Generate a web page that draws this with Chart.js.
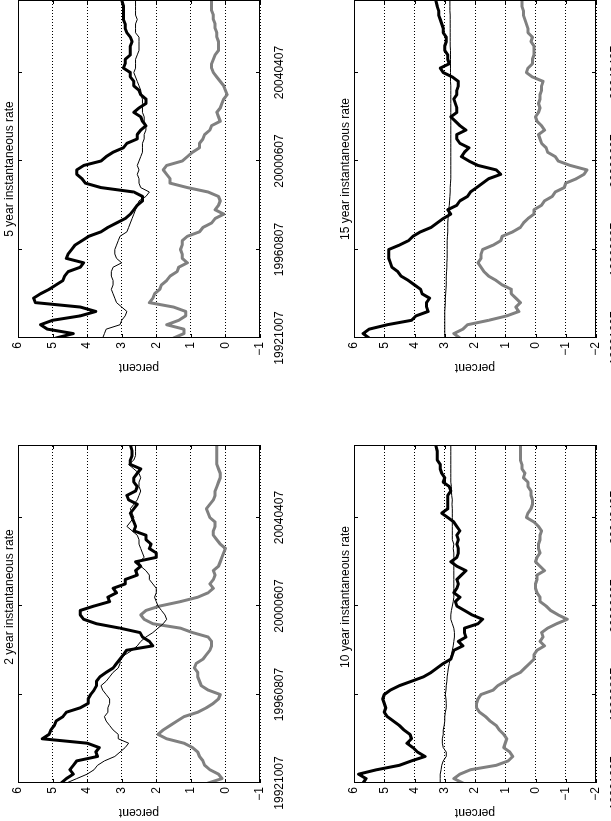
<!DOCTYPE html>
<html>
<head>
<meta charset="utf-8">
<script src="https://cdn.jsdelivr.net/npm/chart.js@4.4.1/dist/chart.umd.min.js"></script>
<style>
    html, body { margin: 0; padding: 0; background: #fff; overflow: hidden; width: 611px; height: 821px; }
    /* the figure is laid out landscape and turned a quarter turn, like the printed page */
    #fig { position: absolute; left: 0; top: 0; width: 821px; height: 611px; overflow: hidden; background: #fff;
           transform-origin: 0 0; transform: translate(0px, 821px) rotate(-90deg); }
    #fig canvas { position: absolute; }
</style>
</head>
<body>
<div id="fig">
    <canvas id="p2" width="386" height="290" style="left:0px;top:0px;width:386px;height:290px"></canvas>
    <canvas id="p5" width="386" height="290" style="left:445px;top:0px;width:386px;height:290px"></canvas>
    <canvas id="p10" width="386" height="290" style="left:0px;top:336px;width:386px;height:290px"></canvas>
    <canvas id="p15" width="386" height="290" style="left:445px;top:336px;width:386px;height:290px"></canvas>
</div>
<script>
// weeks since 1992-10-07 (sampled every 10 weeks), and the dated ticks
const weeks = [0, 10, 20, 30, 40, 50, 60, 70, 80, 90, 100, 110, 120, 130, 140, 150, 160, 170, 180, 190,
               200, 210, 220, 230, 240, 250, 260, 270, 280, 290, 300, 310, 320, 330, 340, 350, 360, 370, 380, 390,
               400, 410, 420, 430, 440, 450, 460, 470, 480, 490, 500, 510, 520, 530, 540, 550, 560, 570, 580, 590,
               600, 610, 620, 630, 640, 650, 660, 670, 680, 690, 700, 710, 720, 730, 740, 750, 764];
const tickWeeks = [0, 200, 400, 600];
const tickDates = ["19921007", "19960807", "20000607", "20040407"];

// 2 year instantaneous rate
const rate2Thick = [4.75, 4.6, 4.4, 4.5, 4.4, 4.3, 3.7, 3.75, 3.65, 4.0,
                    5.3, 5.1, 5.05, 4.95, 4.9, 4.7, 4.6, 4.2, 3.97, 3.97,
                    3.9, 3.8, 3.73, 3.73, 3.63, 3.45, 3.25, 3.15, 3.05, 2.95,
                    2.86, 2.1, 2.2, 2.4, 2.47, 3.05, 3.73, 4.1, 4.2, 4.2,
                    3.8, 3.35, 3.4, 3.15, 3.25, 2.9, 2.9, 2.55, 2.6, 2.45,
                    2.6, 2.0, 2.0, 2.2, 2.15, 2.3, 2.3, 2.65, 2.6, 2.65,
                    2.7, 2.75, 2.65, 2.55, 2.8, 2.85, 2.6, 2.55, 2.65, 2.65,
                    2.55, 2.45, 2.75, 2.75, 2.7, 2.7, 2.75];
const rate2Thin = [4.6, 4.3, 4.0, 3.8, 3.7, 3.5, 3.2, 3.05, 2.9, 2.8,
                   3.1, 3.1, 3.25, 3.35, 3.45, 3.5, 3.4, 3.4, 3.35, 3.35,
                   3.45, 3.55, 3.6, 3.45, 3.35, 3.25, 3.1, 3.05, 3.05, 2.9,
                   2.7, 2.55, 2.45, 2.3, 2.1, 1.95, 1.8, 1.7, 1.75, 1.85,
                   1.95, 2.0, 2.05, 2.0, 2.0, 2.1, 2.2, 2.2, 2.3, 2.45,
                   2.5, 2.35, 2.4, 2.45, 2.5, 2.5, 2.55, 2.7, 2.85, 2.75,
                   2.65, 2.7, 2.75, 2.65, 2.55, 2.5, 2.45, 2.5, 2.5, 2.45,
                   2.5, 2.65, 2.8, 2.65, 2.6, 2.6, 2.6];
const rate2Gray = [0.5, 0.1, 0.2, 0.45, 0.6, 0.65, 0.75, 0.8, 0.95, 1.2,
                   1.7, 1.95, 1.8, 1.6, 1.4, 1.2, 0.8, 0.55, 0.35, 0.2,
                   0.15, 0.5, 0.7, 0.75, 0.8, 0.8, 0.9, 0.85, 0.65, 0.55,
                   0.45, 0.4, 0.4, 0.5, 0.95, 1.3, 2.1, 2.35, 2.45, 2.3,
                   1.9, 1.3, 0.8, 0.5, 0.35, 0.45, 0.35, 0.3, 0.35, 0.2,
                   0.15, 0.1, 0.05, 0.0, 0.15, 0.25, 0.35, 0.35, 0.3, 0.3,
                   0.45, 0.5, 0.55, 0.45, 0.35, 0.3, 0.3, 0.25, 0.2, 0.15,
                   0.15, 0.2, 0.25, 0.25, 0.25, 0.25, 0.25];

// 5 year instantaneous rate
const rate5Thick = [4.9, 4.4, 5.15, 5.35, 5.0, 4.2, 3.75, 4.2, 5.5, 5.55,
                    5.35, 5.1, 4.9, 4.7, 4.65, 4.55, 4.2, 4.1, 4.6, 4.55,
                    4.45, 4.35, 4.15, 3.95, 3.6, 3.4, 3.15, 2.9, 2.75, 2.65,
                    2.55, 2.4, 2.4, 2.65, 3.6, 4.05, 4.15, 4.3, 4.3, 4.1,
                    3.6, 3.45, 3.25, 2.95, 2.85, 2.55, 2.55, 2.45, 2.3, 2.4,
                    2.45, 2.65, 2.5, 2.3, 2.3, 2.45, 2.5, 2.65, 2.65, 2.75,
                    2.75, 2.95, 2.9, 2.9, 2.75, 2.75, 2.75, 2.7, 2.75, 2.85,
                    2.9, 2.9, 2.95, 2.95, 2.95, 2.95, 3.0];
const rate5Thin = [3.55, 3.5, 3.45, 3.05, 3.0, 2.9, 2.85, 3.0, 3.15, 3.2,
                   3.25, 3.3, 3.25, 3.25, 3.3, 3.3, 3.25, 3.0, 3.15, 3.2,
                   3.2, 3.15, 3.1, 3.05, 2.85, 2.8, 2.75, 2.7, 2.65, 2.6,
                   2.55, 2.5, 2.3, 2.2, 2.45, 2.5, 2.5, 2.55, 2.5, 2.55,
                   2.5, 2.45, 2.4, 2.4, 2.4, 2.35, 2.35, 2.3, 2.3, 2.35,
                   2.35, 2.4, 2.4, 2.4, 2.4, 2.45, 2.45, 2.5, 2.55, 2.6,
                   2.65, 2.6, 2.6, 2.6, 2.55, 2.5, 2.5, 2.5, 2.5, 2.6,
                   2.6, 2.6, 2.55, 2.6, 2.6, 2.6, 2.6];
const rate5Gray = [1.5, 1.2, 1.2, 1.7, 1.35, 1.15, 1.15, 1.5, 2.2, 2.1,
                   2.05, 1.9, 1.85, 1.7, 1.6, 1.4, 1.35, 1.1, 1.25, 1.25,
                   1.3, 1.25, 1.25, 1.1, 0.75, 0.65, 0.4, 0.3, 0.05, 0.3,
                   0.2, 0.15, 0.2, 0.5, 1.1, 1.6, 1.6, 1.7, 1.8, 1.7,
                   1.25, 1.1, 0.95, 0.75, 0.75, 0.65, 0.6, 0.45, 0.4, 0.15,
                   0.2, 0.25, 0.15, 0.1, 0.05, -0.05, 0.0, 0.05, 0.15, 0.25,
                   0.35, 0.4, 0.4, 0.35, 0.3, 0.2, 0.2, 0.2, 0.25, 0.25,
                   0.3, 0.3, 0.35, 0.35, 0.4, 0.4, 0.4];

// 10 year instantaneous rate
const rate10Thick = [5.7, 5.6, 5.85, 5.25, 4.5, 4.1, 3.65, 3.9, 4.05, 4.25,
                     4.1, 4.15, 4.35, 4.5, 4.7, 4.9, 5.0, 4.95, 5.0, 5.05,
                     5.0, 4.8, 4.5, 4.1, 3.7, 3.45, 3.25, 3.05, 2.8, 2.75,
                     2.7, 2.4, 2.55, 2.3, 2.35, 2.35, 1.9, 1.75, 2.1, 2.35,
                     2.6, 2.65, 2.5, 2.7, 2.6, 2.55, 2.6, 2.45, 2.3, 2.6,
                     2.8, 2.6, 2.55, 2.55, 2.6, 2.55, 2.6, 2.5, 2.6, 2.7,
                     2.9, 3.1, 2.9, 2.9, 2.9, 2.9, 2.8, 2.85, 3.05, 3.0,
                     3.1, 3.15, 3.15, 3.25, 3.25, 3.25, 3.3];
const rate10Thin = [3.15, 3.15, 3.15, 3.12, 3.1, 3.05, 2.95, 2.95, 3.05, 3.08,
                    3.08, 3.05, 3.05, 3.02, 3.0, 3.0, 2.98, 2.95, 2.95, 2.96,
                    2.98, 2.96, 2.95, 2.93, 2.92, 2.9, 2.88, 2.85, 2.82, 2.78,
                    2.75, 2.72, 2.7, 2.68, 2.68, 2.7, 2.75, 2.8, 2.8, 2.78,
                    2.75, 2.72, 2.7, 2.7, 2.7, 2.7, 2.7, 2.7, 2.7, 2.7,
                    2.7, 2.7, 2.7, 2.72, 2.7, 2.75, 2.75, 2.75, 2.75, 2.75,
                    2.75, 2.75, 2.75, 2.76, 2.75, 2.77, 2.78, 2.78, 2.8, 2.8,
                    2.8, 2.8, 2.8, 2.8, 2.8, 2.8, 2.8];
const rate10Gray = [2.4, 2.7, 2.5, 2.15, 1.3, 0.9, 0.75, 0.85, 1.05, 1.0,
                    0.95, 1.05, 1.2, 1.3, 1.5, 1.65, 1.85, 1.95, 1.95, 1.9,
                    1.8, 1.4, 1.25, 1.0, 0.8, 0.5, 0.35, 0.2, 0.05, 0.05,
                    -0.05, -0.3, -0.15, -0.25, -0.2, -0.4, -0.7, -1.05, -0.75, -0.5,
                    -0.35, -0.15, -0.15, -0.05, 0.0, 0.0, -0.05, -0.05, -0.3, -0.15,
                    0.0, -0.05, -0.15, -0.1, -0.1, -0.15, -0.15, -0.2, -0.1, 0.05,
                    0.3, 0.25, 0.15, 0.1, 0.1, 0.15, 0.15, 0.25, 0.25, 0.4,
                    0.35, 0.45, 0.45, 0.5, 0.5, 0.5, 0.5];

// 15 year instantaneous rate
const rate15Thick = [5.5, 5.7, 5.5, 4.9, 4.1, 3.95, 3.55, 3.6, 3.6, 3.5,
                     3.75, 3.8, 4.0, 4.2, 4.45, 4.55, 4.75, 4.8, 4.85, 4.85,
                     4.85, 4.5, 4.2, 4.05, 3.8, 3.45, 3.25, 3.05, 2.8, 2.9,
                     2.6, 2.5, 2.25, 2.15, 1.95, 1.75, 1.55, 1.15, 1.3, 1.9,
                     2.2, 2.45, 2.35, 2.2, 2.5, 2.6, 2.6, 2.3, 2.5, 2.65,
                     2.8, 2.6, 2.6, 2.65, 2.7, 2.6, 2.6, 2.55, 2.55, 2.75,
                     3.05, 3.15, 2.85, 2.9, 2.9, 3.0, 3.0, 2.95, 2.95, 3.05,
                     3.05, 3.1, 3.15, 3.2, 3.2, 3.25, 3.3];
const rate15Thin = [3.0, 3.0, 3.0, 3.0, 3.0, 3.0, 3.0, 2.99, 2.98, 2.98,
                    2.97, 2.96, 2.95, 2.95, 2.95, 2.94, 2.93, 2.93, 2.92, 2.92,
                    2.92, 2.92, 2.92, 2.91, 2.9, 2.9, 2.9, 2.89, 2.88, 2.87,
                    2.85, 2.84, 2.83, 2.82, 2.82, 2.81, 2.8, 2.8, 2.8, 2.8,
                    2.8, 2.8, 2.8, 2.8, 2.8, 2.8, 2.8, 2.8, 2.8, 2.8,
                    2.8, 2.8, 2.8, 2.8, 2.8, 2.8, 2.8, 2.8, 2.81, 2.81,
                    2.81, 2.81, 2.81, 2.81, 2.81, 2.81, 2.82, 2.82, 2.82, 2.82,
                    2.82, 2.82, 2.82, 2.82, 2.83, 2.83, 2.83];
const rate15Gray = [2.5, 2.7, 2.4, 2.25, 1.55, 0.95, 0.55, 0.65, 0.5, 0.65,
                    0.8, 0.8, 1.1, 1.3, 1.55, 1.7, 1.8, 1.9, 1.8, 1.8,
                    1.75, 1.4, 1.15, 1.1, 0.75, 0.5, 0.4, 0.25, 0.05, 0.05,
                    -0.2, -0.3, -0.55, -0.65, -0.95, -1.0, -1.35, -1.6, -1.7, -1.15,
                    -0.75, -0.65, -0.4, -0.35, -0.2, -0.15, -0.1, -0.3, -0.2, -0.05,
                    0.0, -0.1, -0.15, -0.1, -0.15, -0.15, -0.2, -0.2, -0.25, 0.1,
                    0.3, 0.25, 0.1, 0.1, 0.05, 0.05, 0.05, 0.15, 0.1, 0.25,
                    0.25, 0.3, 0.35, 0.4, 0.4, 0.45, 0.45];

const FONT = { family: "'Liberation Sans', Arial, Helvetica, sans-serif", size: 12 };
Chart.defaults.font.family = FONT.family;
Chart.defaults.color = "#000";

// box, inward tick marks and title, matlab style
const boxPlugin = {
    id: "box",
    afterDraw(chart, args, opts) {
        const { ctx, chartArea: a, scales: { x, y } } = chart;
        ctx.save();
        ctx.strokeStyle = "#000";
        ctx.lineWidth = 1;
        ctx.strokeRect(a.left + 0.5, a.top + 0.5, a.right - a.left - 1, a.bottom - a.top - 1);

        ctx.beginPath();
        tickWeeks.forEach(w => {
            const px = Math.round(x.getPixelForValue(w)) + 0.5;
            ctx.moveTo(px, a.top); ctx.lineTo(px, a.top + 4);
            ctx.moveTo(px, a.bottom); ctx.lineTo(px, a.bottom - 4);
        });
        y.ticks.forEach(t => {
            const py = Math.round(y.getPixelForValue(t.value)) + 0.5;
            ctx.moveTo(a.left, py); ctx.lineTo(a.left + 4, py);
            ctx.moveTo(a.right, py); ctx.lineTo(a.right - 4, py);
        });
        ctx.stroke();

        ctx.fillStyle = "#000";
        ctx.font = `${FONT.size}px ${FONT.family}`;
        ctx.textAlign = "center";
        ctx.textBaseline = "alphabetic";
        ctx.fillText(opts.text, (a.left + a.right) / 2 + opts.shift, a.top - 5);
        ctx.restore();
    }
};

function points(values) {
    return weeks.map((w, i) => ({ x: w, y: values[i] }));
}

function makePanel(id, title, shift, yMin, thick, thin, gray) {
    return new Chart(document.getElementById(id), {
        type: "line",
        data: {
            datasets: [
                { data: points(thick), borderColor: "#000", borderWidth: 3 },
                { data: points(thin), borderColor: "#000", borderWidth: 1 },
                { data: points(gray), borderColor: "#808080", borderWidth: 3 }
            ]
        },
        options: {
            responsive: false,
            animation: false,
            devicePixelRatio: 1,
            layout: { padding: { left: 0, top: 18, right: 10, bottom: 0 } },
            elements: {
                point: { radius: 0 },
                line: { tension: 0, borderJoinStyle: "round", borderCapStyle: "round", fill: false }
            },
            plugins: {
                legend: { display: false },
                tooltip: { enabled: false },
                box: { text: title, shift: shift }
            },
            scales: {
                x: {
                    type: "linear",
                    min: 0,
                    max: 764,
                    afterFit(scale) { scale.height = 30; },
                    afterBuildTicks(scale) { scale.ticks = tickWeeks.map(v => ({ value: v })); },
                    grid: { display: false },
                    border: { display: false },
                    ticks: {
                        padding: 4, maxRotation: 0, autoSkip: false, font: FONT, color: "#000",
                        callback: (v, i) => tickDates[i]
                    }
                },
                y: {
                    min: yMin,
                    max: 6,
                    afterFit(scale) { scale.width = 38; },
                    grid: { color: "#000", lineWidth: 1, drawTicks: false },
                    border: { display: false, dash: [1, 2] },
                    ticks: {
                        stepSize: 1, padding: 4, font: FONT, color: "#000",
                        callback: v => String(v).replace("-", "\u2212")
                    },
                    title: { display: true, text: "percent", font: FONT, color: "#000", padding: { top: 1, bottom: 0 } }
                }
            }
        },
        plugins: [boxPlugin]
    });
}

makePanel("p2", "2 year instantaneous rate", 17, -1, rate2Thick, rate2Thin, rate2Gray);
makePanel("p5", "5 year instantaneous rate", 0, -1, rate5Thick, rate5Thin, rate5Gray);
makePanel("p10", "10 year instantaneous rate", 17, -2, rate10Thick, rate10Thin, rate10Gray);
makePanel("p15", "15 year instantaneous rate", 0, -2, rate15Thick, rate15Thin, rate15Gray);
</script>
</body>
</html>
